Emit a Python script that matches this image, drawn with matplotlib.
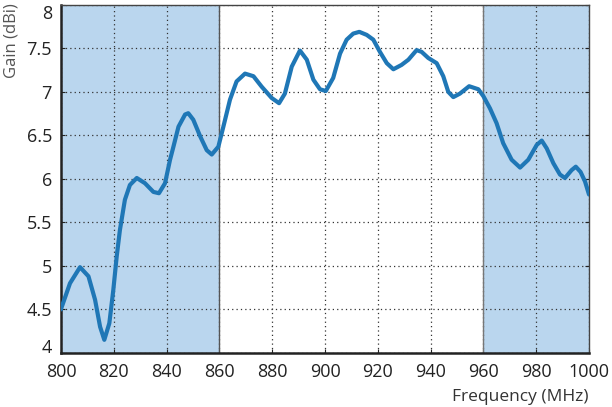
import matplotlib
matplotlib.use('Agg')
import matplotlib.pyplot as plt

plt.rcParams['font.family'] = ['Open Sans', 'DejaVu Sans']

# frequency (MHz) and gain (dBi)
freq = [800, 800.3, 803.4, 807.2, 810.4, 812.9, 814.8, 816.4, 818.3, 819.8, 821.1,
        822.3, 824.2, 826.1, 828.7, 831.8, 835, 837.1, 839.4, 841.3, 842.5,
        844.5, 847, 848.2, 850.1, 852.7, 855.2, 857.1, 859.6, 861.5, 864,
        866.5, 869.7, 872.9, 876, 879.8, 882.6, 884.8, 887.4, 890.5, 893.1,
        895.6, 898.1, 900.3, 903.1, 905.7, 908.2, 910.7, 913, 915.8, 918.3,
        920.8, 923.4, 925.9, 929, 931.6, 934.7, 936.6, 939.1, 942.3, 944.8,
        946.7, 948.6, 951.1, 954.6, 958.1, 960, 962.5, 965, 967.5, 970.7,
        973.9, 977, 980.2, 982.1, 984, 986.5, 989, 990.9, 993.4, 995,
        996.8, 998.5, 1000]
gain = [4.5, 4.53, 4.80, 4.985, 4.88, 4.61, 4.30, 4.15, 4.34, 4.72, 5.11,
        5.41, 5.76, 5.93, 6.01, 5.95, 5.85, 5.835, 5.95, 6.22, 6.36,
        6.60, 6.74, 6.755, 6.68, 6.49, 6.33, 6.28, 6.37, 6.60, 6.91,
        7.12, 7.21, 7.18, 7.06, 6.93, 6.87, 6.98, 7.29, 7.475, 7.37,
        7.14, 7.03, 7.01, 7.16, 7.44, 7.60, 7.67, 7.69, 7.655, 7.60,
        7.46, 7.33, 7.26, 7.31, 7.37, 7.48, 7.46, 7.39, 7.33, 7.18,
        7.0, 6.94, 6.98, 7.065, 7.03, 6.95, 6.81, 6.64, 6.41, 6.22,
        6.13, 6.22, 6.39, 6.44, 6.35, 6.18, 6.05, 6.01, 6.10, 6.14,
        6.08, 5.97, 5.82]

bands = [(800, 860), (960, 1000)]
xticks = list(range(800, 1001, 20))
yticks = [4, 4.5, 5, 5.5, 6, 6.5, 7, 7.5, 8]

fig = plt.figure(figsize=(6.12, 4.07), dpi=100)
ax = fig.add_axes([0.0997, 0.133, 0.8627, 0.855])

for a, b in bands:
    ax.axvspan(a, b, color='#bad6ee', zorder=0, lw=0)
ax.axvline(860, color='#555555', lw=1.0, zorder=1)
ax.axvline(960, color='#777777', lw=1.0, zorder=1)

ax.grid(True, linestyle=(0, (1, 2.5)), color='#333333', lw=0.9)
ax.set_axisbelow(True)

ax.plot(freq, gain, color='#1f77b6', lw=3.0, solid_capstyle='round', zorder=3)

ax.set_xlim(800, 1000)
ax.set_ylim(4, 8)
ax.set_xticks(xticks)
ax.set_yticks(yticks)
ax.set_yticklabels([('%g' % v) for v in yticks])
ax.tick_params(direction='in', length=3, labelsize=13, colors='#222222',
               right=True, top=False)
ax.tick_params(axis='y', pad=6.5)
ax.tick_params(axis='x', pad=7)

# end labels sit inside the axis range, as in the original
ylabels = ax.get_yticklabels()
ylabels[-1].set_va('top')
ylabels[0].set_va('baseline')

for s in ['left', 'bottom']:
    ax.spines[s].set_color('#222222')
    ax.spines[s].set_linewidth(1.8)
for s in ['top', 'right']:
    ax.spines[s].set_color('#444444')
    ax.spines[s].set_linewidth(1.0)

ax.set_xlabel('Frequency (MHz)', fontsize=12.5, color='#333333', loc='right')
ax.xaxis.label.set_va('center')
ax.xaxis.set_label_coords(1.0, -0.126)
ax.set_ylabel('Gain (dBi)', fontsize=12, color='#555555', loc='top')
ax.yaxis.set_label_coords(-0.079, 1.006)

fig.savefig('out.png', dpi=100)
